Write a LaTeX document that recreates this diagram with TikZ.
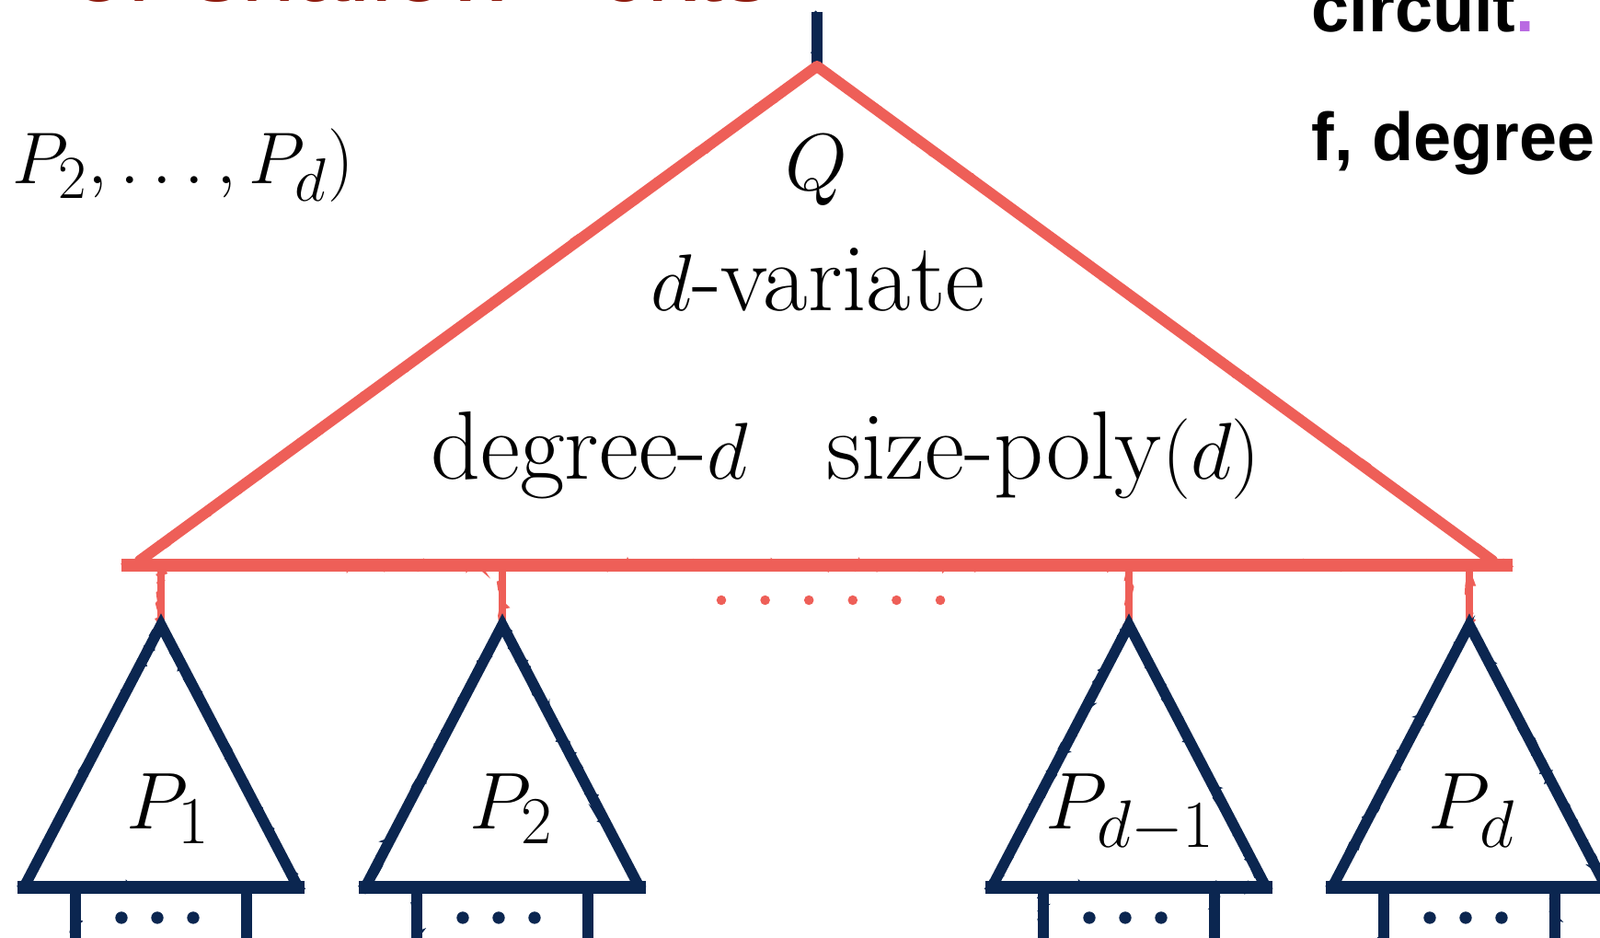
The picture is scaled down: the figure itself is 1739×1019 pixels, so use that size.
\documentclass[tikz,border=0pt]{standalone}
\usepackage{fontspec}
\newfontfamily\helv{Liberation Sans}
\usetikzlibrary{calc,decorations.pathmorphing}
\definecolor{redc}{HTML}{EE5F58}
\definecolor{navy}{HTML}{0B2650}
\definecolor{titlered}{HTML}{8E1B0E}
\definecolor{purp}{HTML}{B96BE2}
\begin{document}
\begin{tikzpicture}[x=0.01cm,y=-0.01cm,
  rough/.style={postaction={draw,line width=1.1pt,decorate,
     decoration={random steps,segment length=1.6pt,amplitude=1.3pt}}},
  redline/.style={draw=redc,line width=3.4pt,line cap=round,line join=round,rough},
  redbase/.style={draw=redc,line width=4.2pt,line cap=butt,rough},
  redstub/.style={draw=redc,line width=2.5pt,line cap=butt,rough},
  blueline/.style={draw=navy,line width=3.2pt,line cap=butt,line join=miter,rough},
  bluetri/.style={draw=navy,line width=3.3pt,line join=miter,rough},
  bluebase/.style={draw=navy,line width=3.9pt,line cap=butt,rough},
  mathlbl/.style={font=\fontsize{30}{34}\selectfont,inner sep=0pt},
  sidelbl/.style={font=\fontsize{24.88}{28}\selectfont,inner sep=0pt,scale=0.91},
  sanslbl/.style={font=\helv\bfseries\fontsize{21}{25}\selectfont,inner sep=0pt},
  titlelbl/.style={font=\helv\fontsize{30}{34}\selectfont,text=titlered,inner sep=0pt},
  reddot/.style={fill=redc},
  bluedot/.style={fill=navy}]
\useasboundingbox (0,0) rectangle (1739,1019);
\clip (0,0) rectangle (1739,1019);

% cut-off title and side texts
\node[titlelbl,anchor=base east] (title1) at (14,2) {e};
\node[titlelbl,anchor=base west] (title2) at (78,2) {of};
\node[titlelbl,anchor=base west] (title3) at (209,2) {shallow};
\node[titlelbl,anchor=base west] (title4) at (650,2) {ckts};
\node[sanslbl,anchor=base west] (circ) at (1425,35) {circuit\textcolor{purp}{.}};
\node[sanslbl,anchor=base west] (fdeg) at (1425,175) {f, degree};
\node[sidelbl,anchor=base west] (args) at (13,200) {$P_2,\ldots,P_d)$};

% root wire and big triangle Q
\coordinate (root) at (888,13);
\coordinate (Qtop) at (888,72);
\coordinate (QL) at (152,609);
\coordinate (QR) at (1622,609);
\coordinate (BL) at (132,614);
\coordinate (BR) at (1644,614);
\draw[blueline] (root) -- (Qtop);
\draw[redline] (QL) -- (Qtop) -- (QR);
\draw[redbase] (BL) -- (BR);

\node[mathlbl,anchor=base] (Q) at (887,207) {$Q$};
\node[mathlbl,anchor=base] (var) at (889,338) {$d$-variate};
\node[mathlbl,anchor=base west] (deg) at (468,521) {degree-$d$};
\node[mathlbl,anchor=base west] (size) at (898,521) {size-poly$(d)$};

% dots between children
\foreach \i in {0,...,5}
  \fill[reddot] (784+47.6*\i,652) circle[radius=1.5pt];

% children
\foreach \n/\x/\lx/\lab in {a/175/183/{P_1}, b/546/556/{P_2}, c/1227/1229/{P_{d-1}}, d/1597/1600/{P_d}}{
  \coordinate (bs\n) at (\x,614);
  \coordinate (top\n) at (\x,679);
  \coordinate (l\n) at (\x-148,962);
  \coordinate (r\n) at (\x+148,962);
  \coordinate (bl\n) at (\x-156,964);
  \coordinate (br\n) at (\x+156,964);
  \draw[redstub] (bs\n) -- (top\n);
  \draw[bluetri] (l\n) -- (top\n) -- (r\n);
  \draw[bluebase] (bl\n) -- (br\n);
  \node[mathlbl,anchor=base] (lab\n) at (\lx,900) {$\lab$};
  \coordinate (wl\n) at (\x-93,966);
  \coordinate (wr\n) at (\x+93,966);
  \coordinate (el\n) at (\x-93,1040);
  \coordinate (er\n) at (\x+93,1040);
  \draw[blueline] (wl\n) -- (el\n);
  \draw[blueline] (wr\n) -- (er\n);
  \foreach \k in {-1,0,1}
    \fill[bluedot] (\x-4+39*\k,997) circle[radius=1.9pt];
}
\end{tikzpicture}
\end{document}
